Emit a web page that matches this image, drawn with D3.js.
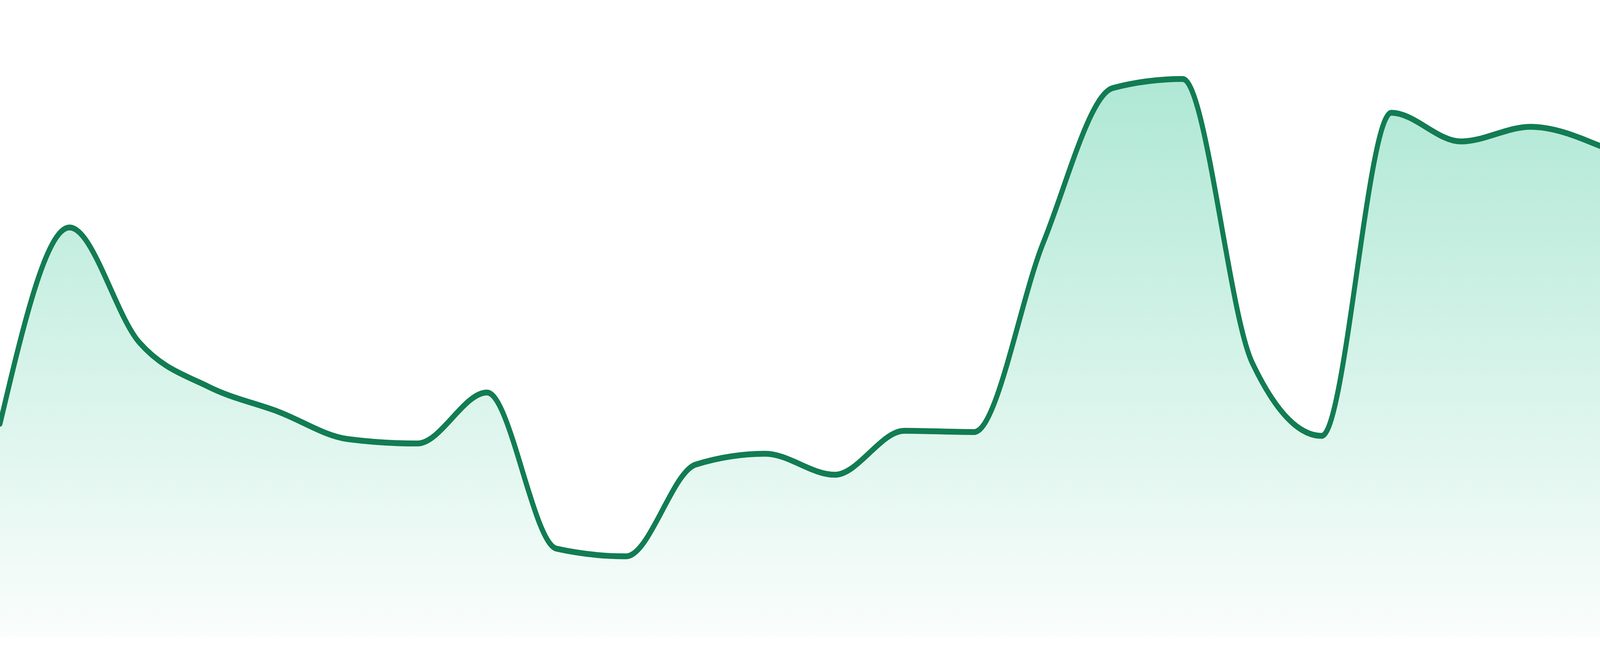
<!DOCTYPE html>
<html>
<head>
<meta charset="utf-8">
<script src="https://cdn.jsdelivr.net/npm/d3@7"></script>
<style>
    html, body { margin: 0; padding: 0; background: #ffffff; overflow: hidden; }
    .rend_area { display: block; width: 100vw; height: 100vh; }
</style>
</head>
<body>
<svg class="rend_area"></svg>
<script>
/////////////// data ////////////////
// one value per step (0 = bottom of the fill)
const STEP_IDX = d3.range(24);
const VALUES = [
    33.5, 64.3, 46.3, 39.3, 35.4, 31.1, 30.4, 38.4,
    13.9, 12.7, 27.1, 28.8, 25.5, 32.4, 32.2, 62.0,
    86.2, 87.6, 43.1, 31.6, 82.3, 77.8, 80.1, 77.1
];
const Y_DOMAIN = [0, 100];

/////////////// layout ////////////////
// drawing units, the svg is stretched over the whole window
const AREA_W = 4800;
const AREA_H = 1680;
const AREA_BOTTOM = 1632;
const LN_W = 15;
const LN_STROKE = "#127c53";
const FILL_BASE = "#10b981";

const SCL_IDX_TO_X = d3.scaleLinear()
    .domain(d3.extent(STEP_IDX))
    .range([0, AREA_W]);
const SCL_VAL_TO_Y = d3.scaleLinear()
    .domain(Y_DOMAIN)
    .range([AREA_BOTTOM, 0]);

const AREA_SVG = d3.select(".rend_area")
    .attr("viewBox", `0 0 ${AREA_W} ${AREA_H}`)
    .attr("preserveAspectRatio", "none");

// vertical fade of the fill
const GRAD = AREA_SVG.append("defs")
    .append("linearGradient")
    .attr("id", "areaFade")
    .attr("gradientUnits", "userSpaceOnUse")
    .attr("x1", 0).attr("x2", 0)
    .attr("y1", 0).attr("y2", AREA_BOTTOM);
GRAD.append("stop")
    .attr("offset", "0%")
    .attr("stop-color", FILL_BASE)
    .attr("stop-opacity", 0.38);
GRAD.append("stop")
    .attr("offset", "100%")
    .attr("stop-color", FILL_BASE)
    .attr("stop-opacity", 0.02);

const POINTS = STEP_IDX.map(i => ({ idx: i, val: VALUES[i] }));

const AREA_GEN = d3.area()
    .curve(d3.curveMonotoneX)
    .x(d => SCL_IDX_TO_X(d.idx))
    .y0(SCL_VAL_TO_Y(0))
    .y1(d => SCL_VAL_TO_Y(d.val));
const LINE_GEN = d3.line()
    .curve(d3.curveMonotoneX)
    .x(d => SCL_IDX_TO_X(d.idx))
    .y(d => SCL_VAL_TO_Y(d.val));

AREA_SVG.append("path")
    .datum(POINTS)
    .attr("d", AREA_GEN)
    .attr("fill", "url(#areaFade)");
AREA_SVG.append("path")
    .datum(POINTS)
    .attr("d", LINE_GEN)
    .attr("fill", "none")
    .attr("stroke", LN_STROKE)
    .attr("stroke-width", LN_W)
    .attr("stroke-linejoin", "round")
    .attr("stroke-linecap", "round");
</script>
</body>
</html>
